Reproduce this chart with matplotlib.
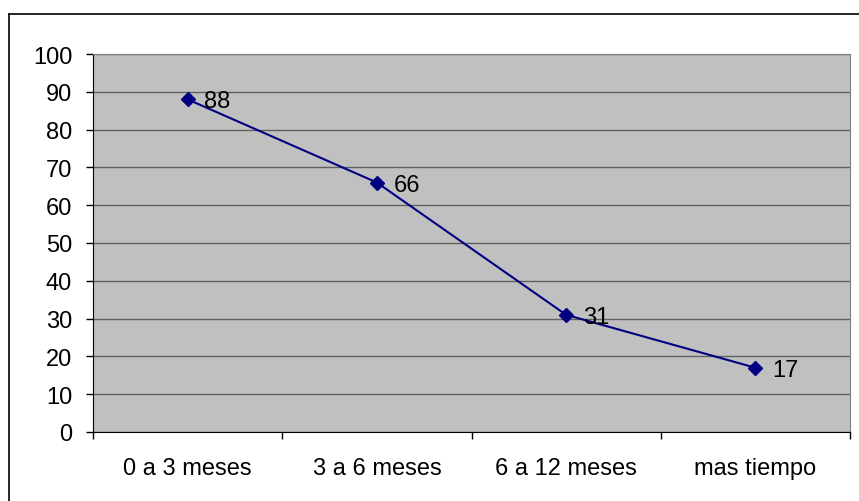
import numpy as np
import matplotlib.pyplot as plt
from matplotlib.lines import Line2D

categorias = ['0 a 3 meses', '3 a 6 meses', '6 a 12 meses', 'mas tiempo']
valores = [88, 66, 31, 17]
yticks = list(range(0, 101, 10))

plt.rcParams['font.family'] = ['Liberation Sans', 'DejaVu Sans']

fig = plt.figure(figsize=(8.59, 5.02), dpi=100)
ax = fig.add_axes([93 / 859, 69 / 502, 757 / 859, 378 / 502])
ax.set_facecolor('#c0c0c0')

x = np.arange(len(categorias)) + 0.5
ax.plot(x, valores, color='#000080', lw=1.5, marker='D', ms=7.5, zorder=3)
for xi, v in zip(x, valores):
    ax.annotate(str(v), (xi, v), xytext=(12, -1.5), textcoords='offset points',
                va='center', ha='left', fontsize=17, color='black', zorder=4)

ax.set_xlim(0, len(categorias))
ax.set_ylim(0, 100)
ax.set_yticks(yticks)
ax.set_xticks(np.arange(len(categorias) + 1))
ax.set_xticklabels([])
ax.set_xticks(x, minor=True)
ax.set_xticklabels(categorias, minor=True, fontsize=17)
ax.tick_params(axis='x', which='major', direction='out', length=5, width=1, color='black')
ax.tick_params(axis='x', which='minor', length=0, pad=18)
ax.tick_params(axis='y', direction='out', length=5, width=1, labelsize=17, pad=10)
ax.grid(axis='y', color='#606060', lw=1)
ax.set_axisbelow(True)

ax.spines['left'].set_color('black')
ax.spines['bottom'].set_color('black')
ax.spines['top'].set_color('#808080')
ax.spines['right'].set_color('#808080')

# outer chart frame (only left/top visible in the picture)
fig.add_artist(Line2D([9 / 859, 9 / 859], [0, 1 - 15 / 502], color='black', lw=1.2,
                      transform=fig.transFigure))
fig.add_artist(Line2D([9 / 859, 1], [1 - 15 / 502, 1 - 15 / 502], color='black', lw=1.2,
                      transform=fig.transFigure))

plt.savefig('out.png', dpi=100)
